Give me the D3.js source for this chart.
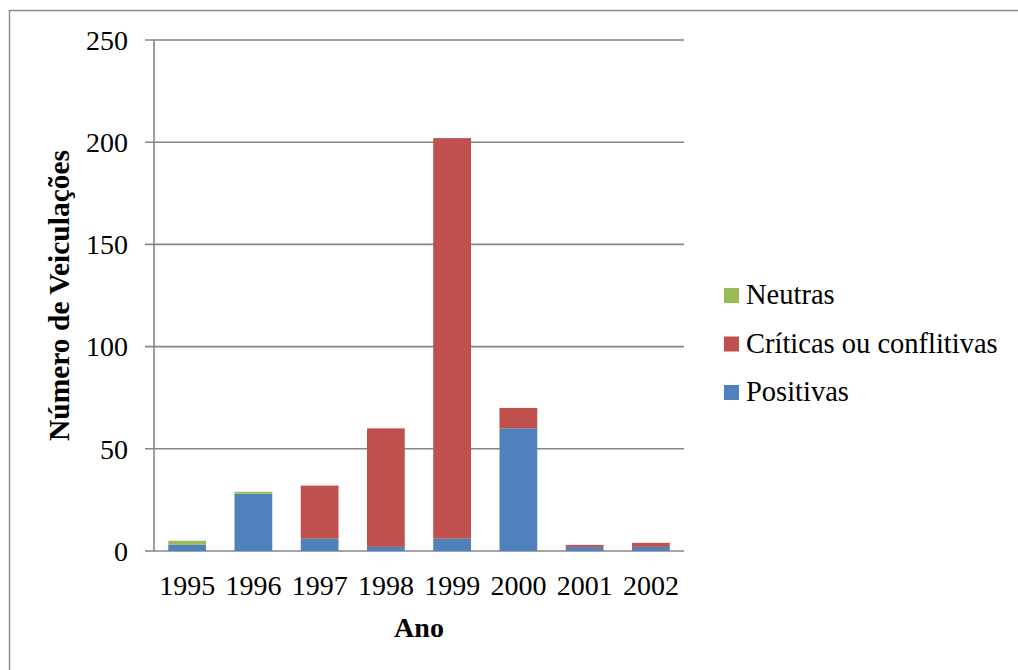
<!DOCTYPE html>
<html>
<head>
<meta charset="utf-8">
<script src="https://cdn.jsdelivr.net/npm/d3@7"></script>
<style>
  body { margin: 0; background: #fff; }
  svg { display: block; }
</style>
</head>
<body>
<svg id="chart" width="1018" height="670"></svg>
<script>
// values
const years = ['1995', '1996', '1997', '1998', '1999', '2000', '2001', '2002']
const positivas = [3, 28, 6, 2, 6, 60, 2, 2]
const criticas = [0, 0, 26, 58, 196, 10, 1, 2]
const neutras = [2, 1, 0, 0, 0, 0, 0, 0]
const yTicks = [0, 50, 100, 150, 200, 250]

const seriesNames = ['Positivas', 'Críticas ou conflitivas', 'Neutras']
const colors = ['#4F81BD', '#C0504D', '#9BBB59']

const font = '"Liberation Serif", "Times New Roman", serif'

const rows = years.map((y, i) => ({
  year: y,
  'Positivas': positivas[i],
  'Críticas ou conflitivas': criticas[i],
  'Neutras': neutras[i]
}))

const svg = d3.select('#chart')

// outer frame
svg.append('rect')
  .attr('x', 9.5).attr('y', 10.5)
  .attr('width', 1100).attr('height', 800)
  .attr('fill', 'none')
  .attr('stroke', '#8c8c8c')
  .attr('stroke-width', 1.5)

const plotLeft = 154
const plotRight = 684
const plotTop = 40
const plotBottom = 551

const x = d3.scaleBand()
  .domain(years)
  .range([plotLeft, plotRight])
  .paddingInner(0.43)
  .paddingOuter(0.215)

const y = d3.scaleLinear()
  .domain([0, 250])
  .range([plotBottom, plotTop])

const color = d3.scaleOrdinal().domain(seriesNames).range(colors)

// gridlines
svg.append('g')
  .selectAll('line')
  .data(yTicks)
  .enter()
  .append('line')
  .attr('x1', plotLeft - 9)
  .attr('x2', plotRight)
  .attr('y1', d => y(d))
  .attr('y2', d => y(d))
  .attr('stroke', '#868686')
  .attr('stroke-width', 1.6)

// y axis line
svg.append('line')
  .attr('x1', plotLeft).attr('x2', plotLeft)
  .attr('y1', plotTop).attr('y2', plotBottom)
  .attr('stroke', '#868686')
  .attr('stroke-width', 1.6)

// y tick labels
svg.append('g')
  .selectAll('text')
  .data(yTicks)
  .enter()
  .append('text')
  .attr('x', plotLeft - 26)
  .attr('y', d => y(d))
  .attr('dy', '0.35em')
  .attr('text-anchor', 'end')
  .style('font-family', font)
  .style('font-size', '28px')
  .text(d => d)

// stacked bars
const stacked = d3.stack().keys(seriesNames)(rows)

svg.append('g')
  .selectAll('g')
  .data(stacked)
  .enter()
  .append('g')
  .attr('fill', d => color(d.key))
  .selectAll('rect')
  .data(d => d)
  .enter()
  .append('rect')
  .attr('x', d => x(d.data.year))
  .attr('width', x.bandwidth())
  .attr('y', d => y(d[1]))
  .attr('height', d => y(d[0]) - y(d[1]))

// x tick labels
svg.append('g')
  .selectAll('text')
  .data(years)
  .enter()
  .append('text')
  .attr('x', d => x(d) + x.bandwidth() / 2)
  .attr('y', 595)
  .attr('text-anchor', 'middle')
  .style('font-family', font)
  .style('font-size', '28px')
  .text(d => d)

// axis titles
svg.append('text')
  .attr('x', (plotLeft + plotRight) / 2)
  .attr('y', 637)
  .attr('text-anchor', 'middle')
  .style('font-family', font)
  .style('font-size', '28px')
  .style('font-weight', 'bold')
  .text('Ano')

svg.append('text')
  .attr('transform', `translate(69, ${(plotTop + plotBottom) / 2}) rotate(-90)`)
  .attr('text-anchor', 'middle')
  .style('font-family', font)
  .style('font-size', '29.5px')
  .style('font-weight', 'bold')
  .text('Número de Veiculações')

// legend (drawn top to bottom in reverse stack order)
const legendItems = seriesNames.slice().reverse()
const legend = svg.append('g')
  .selectAll('g')
  .data(legendItems)
  .enter()
  .append('g')
  .attr('transform', (d, i) => `translate(724, ${288 + i * 48.5})`)

legend.append('rect')
  .attr('width', 15)
  .attr('height', 15)
  .attr('fill', d => color(d))

legend.append('text')
  .attr('x', 22)
  .attr('y', 16)
  .style('font-family', font)
  .style('font-size', '28.5px')
  .text(d => d)
</script>
</body>
</html>
